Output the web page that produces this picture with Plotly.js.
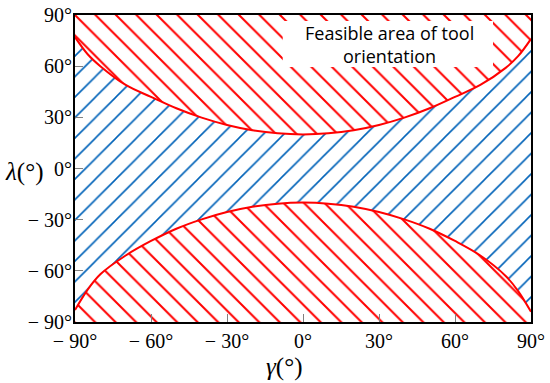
<!DOCTYPE html>
<html>
<head>
<meta charset="utf-8">
<script src="https://cdn.plot.ly/plotly-3.0.1.min.js"></script>
<style>html,body{margin:0;padding:0;background:#fff;}#chart{width:550px;height:383px;}</style>
</head>
<body>
<div id="chart"></div>
<script>
// gamma (deg) sample positions for the two boundary curves
const gammaTop = [-90, -85, -80, -70, -60, -50, -40, -30, -20, -10, 0, 10, 20, 30, 40, 50, 60, 70, 80, 85, 90];
const lambdaTop = [77, 67, 60, 49, 42, 35.3, 29.8, 25.5, 22.4, 20.6, 20, 20.6, 22.4, 25.5, 29.8, 35.3, 42, 49, 59, 66, 76];
const gammaBottom = [-90, -85, -80, -70, -60, -50, -40, -30, -20, -10, 0, 10, 20, 30, 40, 50, 60, 70, 80, 85, 90];
const lambdaBottom = [-83, -71, -62, -51, -42.5, -35.3, -29.8, -25.5, -22.4, -20.6, -20, -20.6, -22.4, -25.5, -29.8, -35.3, -42.5, -51, -63, -72, -84];

const tickVals = [-90, -60, -30, 0, 30, 60, 90];
const tickText = ['\u2212 90\u00b0', '\u2212 60\u00b0', '\u2212 30\u00b0', '0\u00b0', '30\u00b0', '60\u00b0', '90\u00b0'];

const RED = '#ff0000';
const BLUE = '#0062b8';
const SERIF = 'Liberation Serif';
const xMin = tickVals[0], xMax = tickVals[tickVals.length - 1];

const traces = [
  // upper boundary of the plot (y = 90)
  {x: [xMin, xMax], y: [xMax, xMax], type: 'scatter', mode: 'lines', line: {width: 0}, hoverinfo: 'skip'},
  // top curve: red hatched region above it
  {x: gammaTop, y: lambdaTop, type: 'scatter', mode: 'lines', fill: 'tonexty',
   line: {color: RED, width: 2, shape: 'spline', smoothing: 1},
   fillcolor: 'rgba(0,0,0,0)', fillpattern: {shape: '\\', size: 14.5, solidity: 0.14, fgcolor: RED, bgcolor: 'white'}},
  // bottom curve: blue hatched feasible region between the curves
  {x: gammaBottom, y: lambdaBottom, type: 'scatter', mode: 'lines', fill: 'tonexty',
   line: {color: RED, width: 2, shape: 'spline', smoothing: 1},
   fillcolor: 'rgba(0,0,0,0)', fillpattern: {shape: '/', size: 14.5, solidity: 0.11, fgcolor: BLUE, bgcolor: 'white'}},
  // lower boundary of the plot (y = -90): red hatched region below bottom curve
  {x: [xMin, xMax], y: [xMin, xMin], type: 'scatter', mode: 'lines', fill: 'tonexty', line: {width: 0},
   fillcolor: 'rgba(0,0,0,0)', fillpattern: {shape: '\\', size: 14.5, solidity: 0.14, fgcolor: RED, bgcolor: 'white'}, hoverinfo: 'skip'}
];

const axisCommon = {
  range: [xMin, xMax], tickvals: tickVals, ticktext: tickText,
  ticks: 'inside', ticklen: 8, tickwidth: 1, tickcolor: '#808080',
  showline: true, linecolor: 'black', linewidth: 2, mirror: true,
  showgrid: false, zeroline: false,
  tickfont: {family: SERIF, size: 20, color: 'black'}
};

const layout = {
  width: 550, height: 383,
  margin: {l: 75, r: 19, t: 15, b: 61},
  paper_bgcolor: 'white', plot_bgcolor: 'white',
  font: {family: SERIF, color: 'black'},
  showlegend: false,
  xaxis: Object.assign({}, axisCommon),
  yaxis: Object.assign({}, axisCommon, {ticklabelstandoff: -3}),
  shapes: [
    {type: 'rect', xref: 'x', yref: 'y', x0: -8, x1: 75, y0: 59.5, y1: 86.5, fillcolor: 'white', line: {width: 0}, layer: 'above'}
  ],
  annotations: [
    {xref: 'x', yref: 'y', x: 34, y: 72.5, text: 'Feasible area of tool<br>orientation', showarrow: false,
     font: {family: 'Open Sans', size: 18, color: 'black'}, align: 'center'},
    {xref: 'paper', yref: 'paper', x: -0.112, y: 0.49, text: '<i>\u03bb</i>(\u00b0)', showarrow: false,
     xanchor: 'center', yanchor: 'middle', font: {family: SERIF, size: 25, color: 'black'}},
    {xref: 'paper', yref: 'paper', x: 0.46, y: -0.147, text: '<i>\u03b3</i>(\u00b0)', showarrow: false,
     xanchor: 'center', yanchor: 'middle', font: {family: SERIF, size: 25, color: 'black'}}
  ]
};

Plotly.newPlot('chart', traces, layout, {staticPlot: true, displayModeBar: false});
</script>
</body>
</html>
